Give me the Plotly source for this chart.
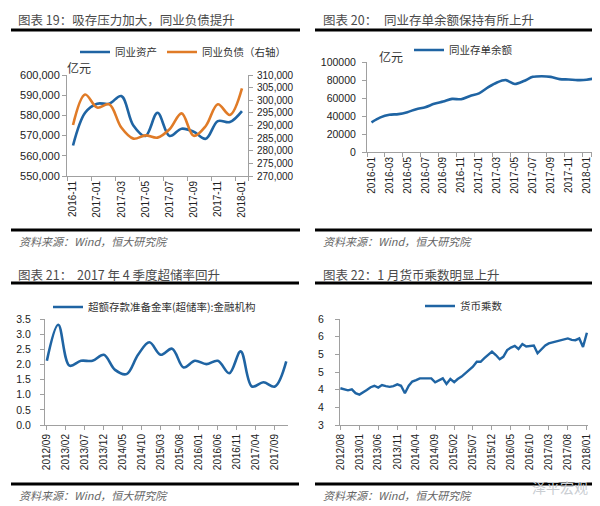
import plotly.graph_objects as go
import pandas as pd

W, H = 600, 506

# ---------------- data ----------------
# Chart 19 (monthly, 2016-11 .. 2018-01)
c19_months = ["2016-11", "2016-12", "2017-01", "2017-02", "2017-03", "2017-04", "2017-05",
              "2017-06", "2017-07", "2017-08", "2017-09", "2017-10", "2017-11", "2017-12", "2018-01"]
c19_assets = [565100, 581300, 585800, 585800, 589600, 575000, 569800, 581300,
              569800, 573400, 571900, 568400, 577200, 576700, 582100]
c19_liabilities = [290200, 302300, 297100, 298400, 289200, 284800, 286100, 285200,
                   288500, 294800, 285900, 289800, 298400, 294200, 304700]
c19_tick_labels = c19_months[::2]

# Chart 20 (monthly, 2016-01 .. 2018-02)
c20_months = [d.strftime("%Y-%m") for d in pd.date_range("2016-01-01", "2018-02-01", freq="MS")]
c20_ncd = [33000, 38500, 41400, 42100, 44300, 47600, 49800, 53500, 56000, 59000, 58600, 62300,
           65200, 71800, 77300, 79900, 75500, 78800, 83500, 84200, 83500, 81000, 80600, 79900,
           80200, 82000]
c20_tick_labels = c20_months[:25:2]

# Chart 21 (quarterly, 2012-09 .. 2017-12)
c21_quarters = [d.strftime("%Y-%m") for d in pd.date_range("2012-09-01", "2017-12-01", freq="3MS")]
c21_excess = [2.12, 3.31, 1.96, 2.12, 2.12, 2.32, 1.82, 1.68, 2.32, 2.73, 2.32,
              2.52, 1.90, 2.12, 2.01, 2.12, 1.71, 2.43, 1.27, 1.41, 1.27, 2.10]
c21_tick_labels = ["2012/09", "2013/02", "2013/07", "2013/12", "2014/05", "2014/10", "2015/03",
                   "2015/08", "2016/01", "2016/06", "2016/11", "2017/04", "2017/09"]

# Chart 22 (monthly, 2012-08 .. 2018-01)
c22_months = [d.strftime("%Y-%m") for d in pd.date_range("2012-08-01", "2018-01-01", freq="MS")]
c22_multiplier = [4.04, 4.00, 3.98, 4.01, 3.90, 3.86, 3.92, 3.99, 4.07, 4.11, 4.06, 4.13, 4.10,
                  4.08, 4.10, 4.15, 4.11, 3.90, 4.11, 4.23, 4.27, 4.32, 4.32, 4.32, 4.32, 4.21,
                  4.27, 4.32, 4.16, 4.30, 4.21, 4.30, 4.37, 4.46, 4.58, 4.65, 4.79, 4.79, 4.89,
                  4.98, 5.08, 4.98, 4.86, 4.93, 5.12, 5.19, 5.24, 5.15, 5.29, 5.22, 5.24, 5.25,
                  5.03, 5.15, 5.25, 5.31, 5.34, 5.36, 5.38, 5.43, 5.45, 5.41, 5.40, 5.45, 5.21,
                  5.61]
c22_tick_labels = ["2012/08", "2013/01", "2013/06", "2013/11", "2014/04", "2014/09", "2015/02",
                   "2015/07", "2015/12", "2016/05", "2016/10", "2017/03", "2017/08", "2018/01"]
c22_tick_vals = [3, 3.5, 4, 4.5, 5, 5.5, 6]
c22_tick_text = ["3", "4", "4", "5", "5", "6", "6"]

# ---------------- styles ----------------
BLUE = "#1f64a3"
ORANGE = "#e07b27"
AXIS = "#a0a0a0"
CJK = "Noto Sans CJK SC"
NUM = "Liberation Sans"


def px(x):
    return x / W


def py(y):
    return (H - y) / H


def ax_style(**kw):
    d = dict(showline=True, linecolor=AXIS, linewidth=1, ticks="outside", tickcolor=AXIS,
             ticklen=4, showgrid=False, zeroline=False, automargin=False,
             tickfont=dict(family=NUM, size=10, color="#222"))
    d.update(kw)
    return d


fig = go.Figure()

# chart 19
fig.add_trace(go.Scatter(x=c19_months, y=c19_assets, mode="lines", name="同业资产",
                         line=dict(color=BLUE, width=2.6, shape="spline", smoothing=1),
                         xaxis="x", yaxis="y", legend="legend"))
fig.add_trace(go.Scatter(x=c19_months, y=c19_liabilities, mode="lines", name="同业负债（右轴）",
                         line=dict(color=ORANGE, width=2.6, shape="spline", smoothing=1),
                         xaxis="x", yaxis="y2", legend="legend"))
# chart 20
fig.add_trace(go.Scatter(x=c20_months, y=c20_ncd, mode="lines", name="同业存单余额",
                         line=dict(color=BLUE, width=2.6, shape="spline", smoothing=0.8),
                         xaxis="x2", yaxis="y3", legend="legend2"))
# chart 21
fig.add_trace(go.Scatter(x=c21_quarters, y=c21_excess, mode="lines",
                         name="超额存款准备金率(超储率):金融机构",
                         line=dict(color=BLUE, width=2.6, shape="spline", smoothing=1),
                         xaxis="x3", yaxis="y4", legend="legend3"))
# chart 22
fig.add_trace(go.Scatter(x=c22_months, y=c22_multiplier, mode="lines", name="货币乘数",
                         line=dict(color=BLUE, width=2.4),
                         xaxis="x4", yaxis="y5", legend="legend4"))

legend_common = dict(orientation="h", xanchor="left", yanchor="middle", bgcolor="rgba(0,0,0,0)",
                     font=dict(family=CJK, size=10.5, color="#333"), itemwidth=30,
                     tracegroupgap=0)

fig.update_layout(
    width=W, height=H, margin=dict(l=0, r=0, t=0, b=0, autoexpand=False),
    paper_bgcolor="white", plot_bgcolor="white", showlegend=True,
    xaxis=ax_style(type="category", domain=[px(59), px(240)], range=[-0.5, 14.5], anchor="y",
                   tickangle=-90, tickmode="array", tickvals=c19_tick_labels,
                   ticktext=c19_tick_labels, tickson="boundaries"),
    yaxis=ax_style(domain=[py(168), py(67)], range=[550000, 600000], dtick=10000,
                   tickformat=",", anchor="x", tickfont=dict(family=NUM, size=11, color="#222")),
    yaxis2=ax_style(overlaying="y", side="right", anchor="x", range=[270000, 310000],
                    dtick=5000, tickformat=",", ticklabelstandoff=2),
    xaxis2=ax_style(type="category", domain=[px(359), px(592)], range=[-0.5, 25.5], anchor="y3",
                    tickangle=-90, tickmode="array", tickvals=c20_tick_labels,
                    ticktext=c20_tick_labels, tickson="boundaries"),
    yaxis3=ax_style(domain=[py(144), py(54)], range=[0, 100000], dtick=20000, tickformat="d",
                    anchor="x2", ticklabelstandoff=4,
                    tickfont=dict(family=NUM, size=10.5, color="#222")),
    xaxis3=ax_style(type="date", domain=[px(37), px(280)], range=["2012-08-17", "2017-12-15"],
                    anchor="y4", tickangle=-90, tickmode="array",
                    tickvals=[t.replace("/", "-") for t in c21_tick_labels],
                    ticktext=c21_tick_labels),
    yaxis4=ax_style(domain=[py(417), py(311)], range=[0, 3.5], dtick=0.5, tickformat=".1f",
                    anchor="x3", ticklabelstandoff=7,
                    tickfont=dict(family=NUM, size=10.5, color="#222")),
    xaxis4=ax_style(type="date", domain=[px(332), px(580)], range=["2012-07-29", "2018-01-10"],
                    anchor="y5", tickangle=-90, tickmode="array",
                    tickvals=[t.replace("/", "-") for t in c22_tick_labels],
                    ticktext=c22_tick_labels),
    yaxis5=ax_style(domain=[py(417), py(311)], range=[3, 6], tickmode="array",
                    tickvals=c22_tick_vals, ticktext=c22_tick_text, anchor="x4",
                    ticklabelstandoff=9,
                    tickfont=dict(family=NUM, size=10.5, color="#222")),
    legend=dict(legend_common, x=px(67), y=py(44)),
    legend2=dict(legend_common, x=px(401), y=py(42)),
    legend3=dict(legend_common, x=px(40), y=py(299)),
    legend4=dict(legend_common, x=px(412), y=py(298)),
)

# titles, units, sources
TITLE_FONT = dict(family=CJK, size=12.5, color="#4a4a4a")
SRC_FONT = dict(family=CJK, size=11, color="#666", style="italic")
texts = [
    ("图表 19：吸存压力加大，同业负债提升", 8, 12, TITLE_FONT),
    ("图表 20：", 313, 12, TITLE_FONT),
    ("同业存单余额保持有所上升", 374, 12, TITLE_FONT),
    ("图表 21：", 8, 266, TITLE_FONT),
    ("2017 年 4 季度超储率回升", 67, 266, TITLE_FONT),
    ("图表 22：1 月货币乘数明显上升", 313, 266, TITLE_FONT),
    ("亿元", 57, 60, dict(family=CJK, size=12, color="#333")),
    ("亿元", 369, 48, dict(family=CJK, size=12, color="#333")),
    ("资料来源：Wind，恒大研究院", 9, 233, SRC_FONT),
    ("资料来源：Wind，恒大研究院", 313, 233, SRC_FONT),
    ("资料来源：Wind，恒大研究院", 9, 487, SRC_FONT),
    ("资料来源：Wind，恒大研究院", 313, 487, SRC_FONT),
    ("泽平宏观", 522, 479, dict(family=CJK, size=14, color="#c9cdd2")),
]
for t, x, y, f in texts:
    fig.add_annotation(text=t, x=px(x), y=py(y), xref="paper", yref="paper",
                       xanchor="left", yanchor="middle", showarrow=False, font=f)

# black rules above and below each panel
for x0, x1, y in [(3, 292, 22), (307, 593, 22), (3, 292, 222), (307, 593, 222),
                  (3, 291, 275), (307, 593, 275), (3, 291, 476), (307, 593, 476)]:
    fig.add_shape(type="line", xref="paper", yref="paper", x0=px(x0), x1=px(x1),
                  y0=py(y), y1=py(y), line=dict(color="black", width=3))

fig.write_html("out.html")
